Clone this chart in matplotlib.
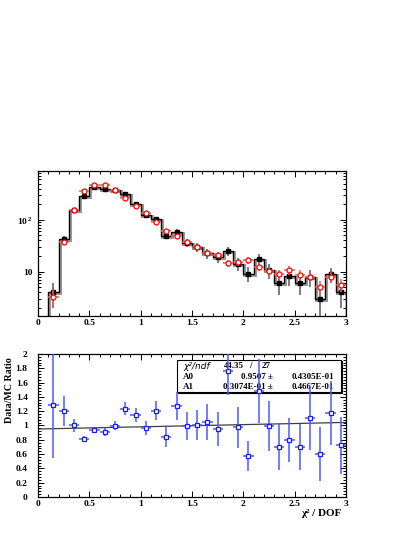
import matplotlib

matplotlib.use("Agg")

import matplotlib.pyplot as plt
import matplotlib.transforms as mtransforms
import numpy as np
from matplotlib.patches import Rectangle
from matplotlib.ticker import AutoMinorLocator, FixedLocator, FormatStrFormatter, MultipleLocator

# chi2/DOF bins, 0.1 wide, from 0.1 to 3.0
bin_edges = [0.1, 0.2, 0.3, 0.4, 0.5, 0.6, 0.7, 0.8, 0.9, 1.0, 1.1, 1.2, 1.3, 1.4, 1.5,
             1.6, 1.7, 1.8, 1.9, 2.0, 2.1, 2.2, 2.3, 2.4, 2.5, 2.6, 2.7, 2.8, 2.9, 3.0]
bin_centers = [0.15, 0.25, 0.35, 0.45, 0.55, 0.65, 0.75, 0.85, 0.95, 1.05, 1.15, 1.25, 1.35,
               1.45, 1.55, 1.65, 1.75, 1.85, 1.95, 2.05, 2.15, 2.25, 2.35, 2.45, 2.55, 2.65,
               2.75, 2.85, 2.95]

# data (black)
data_counts = [4.0, 42.5, 156, 290, 425, 400, 377, 312, 203, 125, 104, 49, 58, 36, 30, 22.5,
               19.1, 25.4, 14.3, 9.2, 17.5, 10.6, 6.05, 8.1, 6.05, 7.9, 3.0, 9.0, 4.0]
data_err = [2.0, 6.5, 12.5, 17.0, 20.6, 20.0, 19.4, 17.7, 14.2, 11.2, 10.2, 7.0, 7.6, 6.0, 5.5,
            4.7, 4.4, 5.0, 3.8, 3.0, 4.2, 3.3, 2.5, 2.8, 2.5, 2.8, 1.7, 3.0, 2.0]

# MC (red)
mc_counts = [3.26, 36.6, 155, 366, 477, 471, 380, 268, 188, 134, 90, 61, 47.8, 37, 30.5, 22.7,
             21, 14.5, 15.4, 16.7, 12.3, 10.5, 8.9, 10.6, 8.8, 7.9, 5.1, 8.0, 5.6]
mc_err = [1.2, 4.0, 8.0, 12.0, 14.0, 14.0, 12.5, 10.5, 8.6, 7.0, 5.8, 4.8, 4.2, 3.7, 3.4, 2.9,
          2.8, 2.3, 2.4, 2.5, 2.1, 2.0, 1.8, 2.0, 1.8, 1.7, 1.4, 1.7, 1.5]

# Data/MC ratio (blue)
ratio = [1.282, 1.203, 1.003, 0.807, 0.937, 0.909, 0.998, 1.235, 1.147, 0.965, 1.207, 0.835,
         1.273, 0.993, 1.007, 1.054, 0.947, 1.767, 0.975, 0.578, 1.478, 0.993, 0.704, 0.797,
         0.704, 1.105, 0.601, 1.179, 0.723]
ratio_err = [0.73, 0.21, 0.09, 0.04, 0.04, 0.05, 0.06, 0.09, 0.10, 0.10, 0.13, 0.14, 0.19,
             0.19, 0.21, 0.25, 0.24, 0.34, 0.29, 0.21, 0.45, 0.35, 0.32, 0.31, 0.32, 0.45,
             0.38, 0.45, 0.40]

# linear fit A0 + A1*x
fit_a0 = 0.9507
fit_a1 = 0.03074
fit_rows = [
    ("A0", "0.9507 \u00b1", "0.4305E-01"),
    ("A1", "0.3074E-01 \u00b1", "0.4667E-01"),
]

serif = "Liberation Serif"
plt.rcParams["mathtext.fontset"] = "custom"
plt.rcParams["mathtext.rm"] = "Liberation Serif:bold"
plt.rcParams["mathtext.bf"] = "Liberation Serif:bold"

fig = plt.figure(figsize=(4.15, 5.37), dpi=100)
ax1 = fig.add_axes([0.0916, 0.4115, 0.742, 0.270])
ax2 = fig.add_axes([0.0916, 0.0745, 0.742, 0.2663])


def style_axis(ax, ypad):
    ax.tick_params(which="both", direction="in", top=True, right=True, width=0.7)
    ax.tick_params(which="major", length=4)
    ax.tick_params(which="minor", length=2)
    ax.tick_params(axis="x", pad=2.5)
    ax.tick_params(axis="y", pad=ypad)
    for sp in ax.spines.values():
        sp.set_linewidth(0.9)
    for lab in ax.get_xticklabels() + ax.get_yticklabels():
        lab.set_fontfamily(serif)
        lab.set_fontweight("bold")
        lab.set_fontsize(6.8)


# top panel
ax1.set_yscale("log")
shadow = mtransforms.offset_copy(ax1.transData, fig=fig, x=1.0, y=-1.0, units="dots")
ax1.stairs(data_counts, bin_edges, baseline=1e-3, color="0.6", lw=2.2, transform=shadow, zorder=1)
ax1.stairs(data_counts, bin_edges, baseline=1e-3, color="black", lw=1.0, zorder=2)
ax1.errorbar(bin_centers, data_counts, yerr=data_err, fmt="s", color="black", ms=2.6,
             ecolor="0.35", elinewidth=1.1, capsize=0, zorder=3)
ax1.errorbar(bin_centers, mc_counts, yerr=mc_err, xerr=0.05, fmt="o", mfc="white", mec="red",
             mew=0.9, ms=3.6, ecolor="#ff5a5a", elinewidth=1.1, capsize=0, zorder=4)
ax1.set_xlim(0, 3)
ax1.set_ylim(1.4, 870)
ax1.xaxis.set_major_locator(MultipleLocator(0.5))
ax1.xaxis.set_minor_locator(MultipleLocator(0.1))
ax1.xaxis.set_major_formatter(FormatStrFormatter("%g"))
ax1.yaxis.set_major_locator(FixedLocator([10, 100]))
ax1.set_yticklabels(["10", r"10$^{\,2}$"])
style_axis(ax1, 3.5)

# bottom panel
xfit = np.array([0.0, 3.0])
ax2.plot(xfit, fit_a0 + fit_a1 * xfit, color="0.25", lw=0.9, zorder=2)
ax2.errorbar(bin_centers, ratio, yerr=ratio_err, xerr=0.05, fmt="s", mfc="white", mec="#1a1aff",
             mew=0.9, ms=3.4, ecolor="#4a5aff", elinewidth=1.1, capsize=0, zorder=6)
ax2.set_xlim(0, 3)
ax2.set_ylim(0, 2)
ax2.xaxis.set_major_locator(MultipleLocator(0.5))
ax2.xaxis.set_minor_locator(MultipleLocator(0.1))
ax2.xaxis.set_major_formatter(FormatStrFormatter("%g"))
ax2.yaxis.set_major_locator(MultipleLocator(0.2))
ax2.yaxis.set_minor_locator(AutoMinorLocator(5))
ax2.yaxis.set_major_formatter(FormatStrFormatter("%g"))
style_axis(ax2, 7.5)

# fit statistics box (with ROOT-like shadow)
ax2.add_patch(Rectangle((0.455, 0.726), 0.533, 0.224, transform=ax2.transAxes,
                        facecolor="black", edgecolor="black", lw=0.8, zorder=4, clip_on=False))
ax2.add_patch(Rectangle((0.451, 0.734), 0.533, 0.224, transform=ax2.transAxes,
                        facecolor="white", edgecolor="black", lw=0.8, zorder=5, clip_on=False))
ax2.text(0.471, 0.916, "\u03c7\u00b2/ndf", transform=ax2.transAxes, fontsize=6.5,
         family="DejaVu Sans", style="italic", va="center", zorder=5)
ax2.text(0.669, 0.916, "44.35", transform=ax2.transAxes, fontsize=6.5, family=serif,
         fontweight="bold", ha="right", va="center", zorder=5)
ax2.text(0.688, 0.916, "/", transform=ax2.transAxes, fontsize=6.5, family=serif,
         fontweight="bold", ha="center", va="center", zorder=5)
ax2.text(0.727, 0.916, "27", transform=ax2.transAxes, fontsize=6.5, family=serif,
         fontweight="bold", ha="left", va="center", zorder=5)
for (name, val, err), yrow in zip(fit_rows, [0.839, 0.769]):
    ax2.text(0.471, yrow, name, transform=ax2.transAxes, fontsize=6.5, family=serif,
             fontweight="bold", va="center", zorder=5)
    ax2.text(0.763, yrow, val, transform=ax2.transAxes, fontsize=6.5, family=serif,
             fontweight="bold", ha="right", va="center", zorder=5)
    ax2.text(0.961, yrow, err, transform=ax2.transAxes, fontsize=6.5, family=serif,
             fontweight="bold", ha="right", va="center", zorder=5)

ax2.text(0.984, -0.112, "\u03c7\u00b2 / DOF", transform=ax2.transAxes, fontsize=8,
         family=serif, fontweight="bold", ha="right", va="center")
fig.text(0.022, 0.2737, "Data/MC Ratio", rotation=90, fontsize=7.2, family=serif,
         fontweight="bold", ha="center", va="center")

fig.savefig("out.png", dpi=100)
